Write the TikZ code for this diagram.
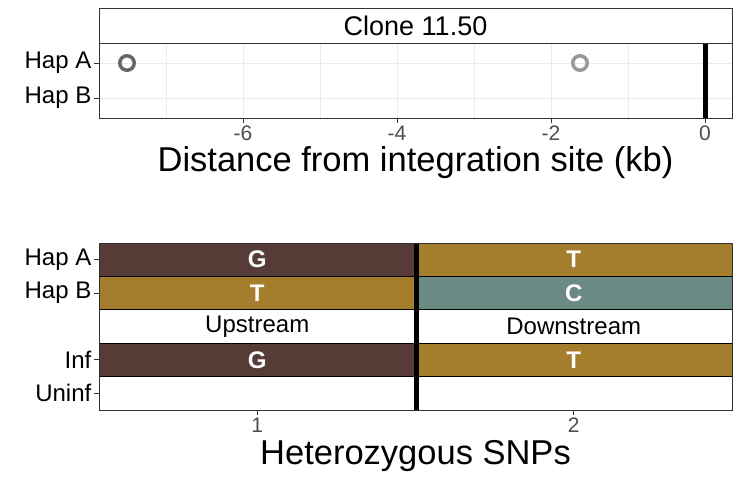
\documentclass[tikz,border=0pt]{standalone}
\usepackage{fontspec}
\setmainfont{Liberation Sans}

\definecolor{snpG}{HTML}{563B37}
\definecolor{snpT}{HTML}{A57E2D}
\definecolor{snpC}{HTML}{6A8A83}
\definecolor{frame}{HTML}{333333}
\definecolor{gridc}{HTML}{EBEBEB}
\definecolor{ticktxt}{HTML}{4D4D4D}

\begin{document}
\begin{tikzpicture}[x=1pt, y=-1pt,
    cell/.style={draw=black, line width=1pt, minimum width=316.5pt, minimum height=33.4pt, inner sep=0pt},
    base/.style={text=white, font=\fontsize{24}{24}\selectfont\bfseries},
    ylab/.style={anchor=east, inner sep=0pt, font=\fontsize{24}{24}\selectfont},
    xlab/.style={text=ticktxt, inner sep=0pt, font=\fontsize{21}{21}\selectfont},
    axtitle/.style={inner sep=0pt, font=\fontsize{34.5}{34.5}\selectfont},
    snp/.style={circle, draw, line width=3.5pt, minimum size=14.5pt, inner sep=0pt}]
    \useasboundingbox (0,0) rectangle (741,477);

    % top panel: distance plot
    \foreach \k in {-7,-5,-3,-1} \draw [gridc, line width=0.5pt] ({705+77*\k},43) -- ({705+77*\k},118);
    \foreach \k in {-6,-4,-2,0} \draw [gridc, line width=1pt] ({705+77*\k},43) -- ({705+77*\k},118);
    \foreach \r in {63,98} \draw [gridc, line width=1pt] (99,\r) -- (732,\r);
    \node [snp, draw=black!60] (snpL) at (127,63) {};
    \node [snp, draw=black!40] (snpR) at (580,63) {};
    \draw [line width=5pt] (705,43) -- (705,118);
    \draw [frame, line width=1pt] (99,43) rectangle (732,118);
    \draw [frame, line width=1pt] (99,8) rectangle (732,43);
    \node [font=\fontsize{27}{27}\selectfont] (clone) at (415.5,26) {Clone 11.50};
    \foreach \lab/\r [count=\i] in {Hap A/63, Hap B/98} {
        \draw [frame, line width=1pt] (94,\r) -- (99,\r);
        \node [ylab] (dy\i) at (91.5,\r) {\lab};
    }
    \foreach \k [count=\i] in {-6,-4,-2,0} {
        \draw [frame, line width=1pt] ({705+77*\k},118) -- ++(0,5);
        \node [xlab, anchor=north] (dx\i) at ({705+77*\k},126) {\k};
    }
    \node [axtitle] (dtitle) at (415.5,163) {Distance from integration site (kb)};

    % bottom panel: heterozygous SNPs
    \node [cell, base, fill=snpG] (hapA1) at (257.25,259.7) {G};
    \node [cell, base, fill=snpT] (hapA2) at (573.75,259.7) {T};
    \node [cell, base, fill=snpT] (hapB1) at (257.25,293.1) {T};
    \node [cell, base, fill=snpC] (hapB2) at (573.75,293.1) {C};
    \node [cell, font=\fontsize{24}{24}\selectfont] (up) at (257.25,326.5) {Upstream};
    \node [cell, font=\fontsize{24}{24}\selectfont] (down) at (573.75,326.5) {Downstream};
    \node [cell, base, fill=snpG] (inf1) at (257.25,359.9) {G};
    \node [cell, base, fill=snpT] (inf2) at (573.75,359.9) {T};
    \node [cell] (uninf1) at (257.25,393.3) {};
    \node [cell] (uninf2) at (573.75,393.3) {};
    \draw [line width=5pt] (hapA1.north east) -- (uninf1.south east);
    \draw [frame, line width=1pt] (99,243) rectangle (732,410);
    \foreach \lab/\r [count=\i] in {Hap A/259.7, Hap B/293.1, Inf/359.9, Uninf/393.3} {
        \draw [frame, line width=1pt] (94,\r) -- (99,\r);
        \node [ylab] (sy\i) at (91.5,\r) {\lab};
    }
    \foreach \k/\c in {1/257.25, 2/573.75} {
        \draw [frame, line width=1pt] (\c,410) -- ++(0,5);
        \node [xlab, anchor=north] (sx\k) at (\c,418) {\k};
    }
    \node [axtitle] (stitle) at (415.5,456) {Heterozygous SNPs};
\end{tikzpicture}
\end{document}
